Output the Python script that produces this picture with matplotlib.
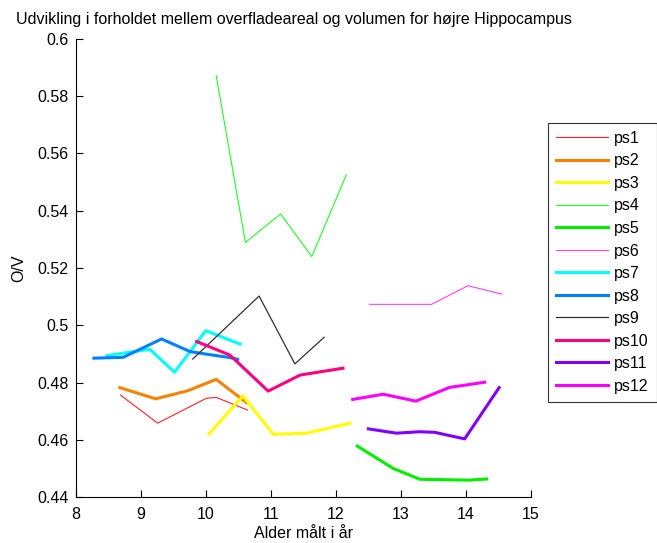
import matplotlib
matplotlib.use("Agg")
import matplotlib.pyplot as plt

plt.rcParams['font.family'] = ['Liberation Sans', 'DejaVu Sans']

labels = ["ps1", "ps2", "ps3", "ps4", "ps5", "ps6", "ps7", "ps8", "ps9", "ps10", "ps11", "ps12"]

ps1_x = [8.69, 9.26, 10.01, 10.16, 10.64]
ps1_y = [0.4756, 0.4658, 0.4745, 0.4748, 0.4704]
ps2_x = [8.68, 9.23, 9.72, 10.16, 10.63]
ps2_y = [0.4782, 0.4743, 0.4771, 0.4811, 0.4729]
ps3_x = [10.05, 10.57, 11.04, 11.55, 12.22]
ps3_y = [0.4620, 0.4753, 0.4619, 0.4623, 0.4658]
ps4_x = [10.16, 10.61, 11.15, 11.63, 12.16]
ps4_y = [0.5872, 0.5289, 0.5389, 0.5240, 0.5525]
ps5_x = [12.33, 12.88, 13.29, 14.04, 14.32]
ps5_y = [0.4578, 0.4500, 0.4462, 0.4459, 0.4463]
ps6_x = [12.52, 13.47, 14.03, 14.55]
ps6_y = [0.5073, 0.5073, 0.5138, 0.5109]
ps7_x = [8.48, 9.14, 9.52, 10.00, 10.53]
ps7_y = [0.4894, 0.4916, 0.4836, 0.4981, 0.4934]
ps8_x = [8.28, 8.73, 9.32, 9.76, 10.01, 10.37, 10.49]
ps8_y = [0.4885, 0.4888, 0.4952, 0.4908, 0.4899, 0.4887, 0.4881]
ps9_x = [9.80, 10.82, 11.37, 11.82]
ps9_y = [0.4882, 0.5102, 0.4865, 0.4958]
ps10_x = [9.86, 10.37, 10.96, 11.45, 12.11]
ps10_y = [0.4943, 0.4896, 0.4770, 0.4826, 0.4850]
ps11_x = [12.50, 12.93, 13.29, 13.52, 13.98, 14.51]
ps11_y = [0.4638, 0.4623, 0.4628, 0.4626, 0.4603, 0.4782]
ps12_x = [12.26, 12.73, 13.23, 13.75, 14.29]
ps12_y = [0.4741, 0.4759, 0.4735, 0.4783, 0.4801]

xs = [ps1_x, ps2_x, ps3_x, ps4_x, ps5_x, ps6_x, ps7_x, ps8_x, ps9_x, ps10_x, ps11_x, ps12_x]
ys = [ps1_y, ps2_y, ps3_y, ps4_y, ps5_y, ps6_y, ps7_y, ps8_y, ps9_y, ps10_y, ps11_y, ps12_y]

colors = ["#ff2020", "#ff8000", "#ffff00", "#20ff20", "#00ee00", "#ff40ff",
          "#00ffff", "#0080ff", "#303030", "#ff0080", "#8000ff", "#ff00ff"]
widths = [0.8, 2.2, 2.2, 0.8, 2.2, 0.8, 2.2, 2.2, 0.9, 2.2, 2.2, 2.2]

FS = 11.5

fig = plt.figure(figsize=(6.57, 5.43), dpi=100)
ax = fig.add_axes([0.1152, 0.0847, 0.6930, 0.8435])

for x, y, c, w, l in zip(xs, ys, colors, widths, labels):
    ax.plot(x, y, color=c, linewidth=w, label=l)

ax.set_xlim(8, 15)
ax.set_ylim(0.44, 0.6)
ax.set_xticks(range(8, 16))
ax.set_yticks([0.44, 0.46, 0.48, 0.5, 0.52, 0.54, 0.56, 0.58, 0.6])
ax.set_yticklabels(["0.44", "0.46", "0.48", "0.5", "0.52", "0.54", "0.56", "0.58", "0.6"])
ax.spines['top'].set_visible(False)
ax.spines['right'].set_visible(False)
ax.tick_params(direction='in', length=5, labelsize=FS)
ax.tick_params(axis='x', pad=7)
ax.tick_params(axis='y', pad=5)
ax.set_xlabel("Alder målt i år", fontsize=FS, labelpad=3)
ax.set_ylabel("O/V", fontsize=FS, labelpad=8)
ax.set_title("Udvikling i forholdet mellem overfladeareal og volumen for højre Hippocampus",
             fontsize=FS, x=0.48, pad=11)

leg = fig.legend(loc='upper left', bbox_to_anchor=(0.834, 0.7735), fontsize=FS,
                 handlelength=3.25, handletextpad=0.4, labelspacing=0.47, borderaxespad=0,
                 frameon=True, fancybox=False, edgecolor='black', borderpad=0.5)
leg.get_frame().set_linewidth(0.8)

fig.savefig("out.png", dpi=100)
